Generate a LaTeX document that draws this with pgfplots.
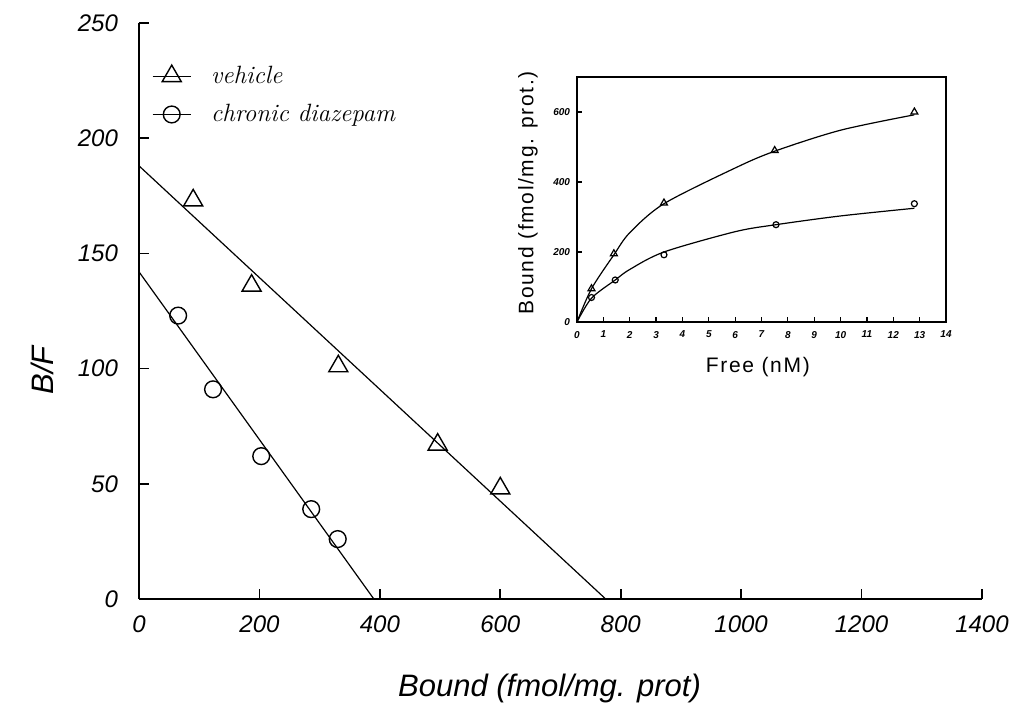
\documentclass[border=0pt]{standalone}
\usepackage{fontspec}
\setsansfont{Liberation Sans}
\newfontfamily\insetfont[LetterSpace=8]{Liberation Sans}
\usepackage{pgfplots}
\pgfplotsset{compat=1.18}

\begin{document}
\begin{tikzpicture}
\useasboundingbox (0,0) rectangle (506.5pt,358pt);

% main Scatchard plot
\begin{axis}[
    name=main,
    at={(69.5pt,58.5pt)}, anchor=south west,
    scale only axis,
    width=421.5pt, height=288pt,
    xmin=0, xmax=1400, ymin=0, ymax=250,
    axis lines*=left,
    axis line style={line width=1pt},
    xtick={0,200,...,1400},
    ytick={0,50,...,250},
    tick align=inside,
    major tick length=5pt,
    tick style={line width=0.8pt, black},
    /pgf/number format/assume math mode=true,
    /pgf/number format/1000 sep={},
    tick label style={font=\fontsize{12}{14}\selectfont\sffamily\itshape},
    xticklabel style={yshift=-5pt},
    yticklabel style={xshift=-7pt},
    xlabel={Bound (fmol/mg. prot)},
    ylabel={B/F},
    label style={font=\fontsize{15.5}{18}\selectfont\sffamily\itshape},
    xlabel style={at={(axis description cs:0.487,-0.155)}, anchor=center},
    ylabel style={at={(axis description cs:-0.115,0.397)}, anchor=center},
    legend style={at={(axis description cs:0.008,0.94)}, anchor=north west,
        draw=none, fill=none, font=\fontsize{12.5}{14}\selectfont\itshape,
        row sep=5pt},
    legend cell align=left,
    legend image code/.code={\draw[#1,sharp plot,mark repeat=2,mark phase=2,line width=0.6pt]
        plot coordinates {(0pt,0pt)(9.5pt,0pt)(19pt,0pt)}; \path (27pt,0pt);},
    clip=false,
]
\addplot[only marks, mark=triangle, mark size=5.5pt, mark options={line width=0.7pt}]
    coordinates {(90,173) (187,136) (331,101) (496,67) (600,48)};
\addlegendentry{vehicle}
\addplot[only marks, mark=o, mark size=4.2pt, mark options={line width=0.7pt}]
    coordinates {(65,123) (123,91) (203,62) (286,39) (330,26)};
\addlegendentry{chronic diazepam}
\addplot[forget plot, black, line width=0.6pt] coordinates {(0,188) (775,0)};
\addplot[forget plot, black, line width=0.6pt] coordinates {(0,142) (390,0)};
\end{axis}

% inset saturation curves
\begin{axis}[
    at={(288.5pt,197pt)}, anchor=south west,
    scale only axis,
    width=184.5pt, height=122.5pt,
    xmin=0, xmax=14, ymin=0, ymax=700,
    xtick={0,1,...,14},
    ytick={0,200,400,600},
    xtick pos=left, ytick pos=left,
    tick align=inside,
    major tick length=2.5pt,
    axis line style={line width=0.8pt},
    tick style={line width=0.6pt, black},
    /pgf/number format/assume math mode=true,
    tick label style={font=\fontsize{5}{6}\selectfont\sffamily\bfseries\itshape},
    xticklabel style={yshift=-1pt},
    xlabel={Free (nM)},
    ylabel={Bound (fmol/mg. prot.)},
    label style={font=\fontsize{10.5}{12}\selectfont\insetfont},
    xlabel style={at={(axis description cs:0.49,-0.184)}, anchor=center},
    ylabel style={at={(axis description cs:-0.133,0.527)}, anchor=center},
]
\addplot[black, line width=0.6pt, smooth, tension=0.5] coordinates {
    (0,0) (0.55,95) (1.4,192) (2,255) (3.3,338) (6,440) (7.5,488) (10,548) (12.8,592)};
\addplot[black, line width=0.6pt, smooth, tension=0.5] coordinates {
    (0,0) (0.55,68) (1.45,120) (2,150) (3.3,200) (6,258) (7.55,278) (10,303) (12.8,325)};
\addplot[only marks, mark=triangle, mark size=2pt, mark options={line width=0.6pt}]
    coordinates {(0.55,95) (1.4,195) (3.3,340) (7.5,490) (12.8,600)};
\addplot[only marks, mark=o, mark size=1.5pt, mark options={line width=0.6pt}]
    coordinates {(0.55,70) (1.45,120) (3.3,192) (7.55,278) (12.8,338)};
\end{axis}
\end{tikzpicture}
\end{document}
